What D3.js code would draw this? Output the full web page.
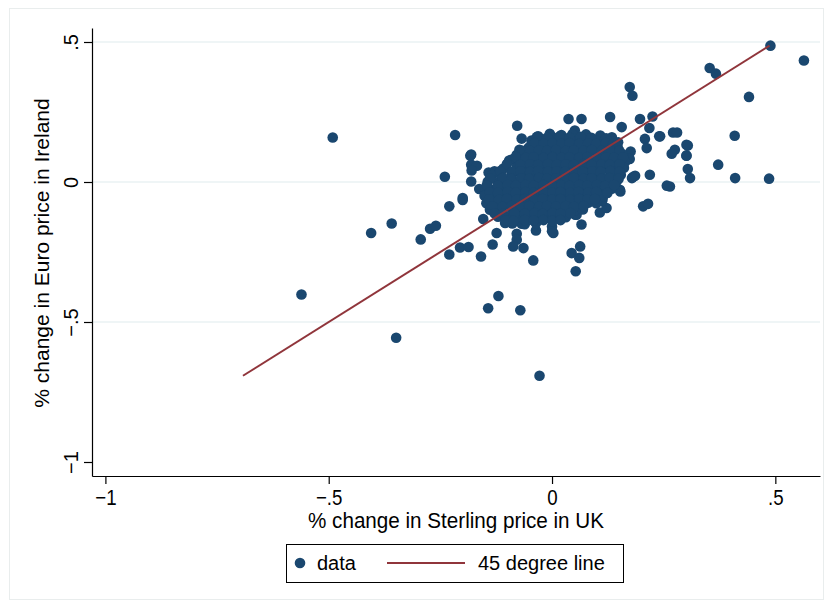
<!DOCTYPE html>
<html>
<head>
<meta charset="utf-8">
<script src="https://cdn.jsdelivr.net/npm/d3@7"></script>
<style>
  body { margin: 0; background: #fff; }
  svg text { font-family: "Liberation Sans", Arial, sans-serif; fill: #000; }
</style>
</head>
<body>
<div id="chart"></div>
<script>
// tick values and labels
var xTicks = [-1, -0.5, 0, 0.5];
var yTicks = [-1, -0.5, 0, 0.5];
var gridTicks = [-0.5, 0, 0.5];
var tickLabel = {"-1": "\u22121", "-0.5": "\u2212.5", "0": "0", "0.5": ".5"};
var legendLabels = ["data", "45 degree line"];

// scattered points (UK change, Ireland change)
var outlierPts = [
  [0.489, 0.487], [0.564, 0.434], [0.353, 0.407], [0.367, 0.387], [0.441, 0.304],
  [0.242, 0.163], [0.271, 0.177], [0.280, 0.177], [0.409, 0.165], [0.304, 0.130],
  [0.275, 0.115], [0.268, 0.101], [0.301, 0.095], [0.304, 0.046], [0.309, 0.014],
  [0.372, 0.062], [0.410, 0.014], [0.486, 0.012], [0.264, -0.016],
  [0.174, 0.339], [0.180, 0.308], [0.037, 0.225], [0.066, 0.225], [0.130, 0.232],
  [0.197, 0.225], [0.225, 0.234], [0.156, 0.196], [0.240, 0.163], [0.301, 0.133],
  [0.301, 0.094], [0.219, 0.026], [0.182, 0.019], [0.204, -0.087], [0.215, -0.078],
  [0.218, 0.193], [0.051, 0.184], [0.208, 0.154], [0.212, 0.121], [0.176, 0.109],
  [0.174, 0.082], [0.179, 0.014], [0.186, 0.022], [0.257, -0.013], [0.152, 0.104],
  [-0.078, 0.201], [-0.217, 0.168], [-0.068, 0.155], [-0.031, 0.163], [0.000, 0.161],
  [-0.181, 0.098], [-0.073, 0.115], [-0.181, 0.062], [-0.168, 0.058], [-0.180, 0.041],
  [-0.240, 0.019], [-0.142, 0.034], [-0.129, 0.038], [-0.090, 0.080], [-0.163, -0.025],
  [-0.200, -0.057], [-0.181, 0.002], [-0.183, 0.094],
  [-0.491, 0.159], [-0.200, -0.064], [-0.230, -0.087], [-0.405, -0.182], [-0.359, -0.148],
  [-0.294, -0.205], [-0.273, -0.167], [-0.260, -0.156], [-0.230, -0.259], [-0.206, -0.234],
  [-0.187, -0.232], [-0.159, -0.266], [-0.133, -0.223], [-0.124, -0.182], [-0.079, -0.185],
  [-0.079, -0.206], [-0.087, -0.230], [-0.064, -0.236], [-0.042, -0.280], [-0.036, -0.173],
  [-0.068, -0.149], [-0.154, -0.132], [-0.105, -0.146],
  [0.000, -0.159], [0.000, -0.176], [0.066, -0.152], [0.052, -0.117], [0.063, -0.230],
  [0.044, -0.254], [0.061, -0.271], [0.053, -0.319], [0.107, -0.109], [0.122, -0.093],
  [0.113, -0.063], [0.152, -0.028], [0.111, -0.069], [0.153, -0.034], [0.126, -0.028],
  [0.003, -0.182], [0.055, -0.117],
  [-0.561, -0.402], [-0.349, -0.556], [-0.143, -0.451], [-0.120, -0.407], [-0.071, -0.458],
  [-0.028, -0.692]
];

// dense middle cloud, read row by row
var clusterPts = [
  [-0.005, 0.172], [0.021, 0.168], [0.046, 0.171], [0.076, 0.170], [0.108, 0.166], [0.134, 0.160],
  [-0.046, 0.148], [-0.021, 0.151], [0.006, 0.147], [0.031, 0.150], [0.054, 0.146], [0.079, 0.149], [0.101, 0.146], [0.118, 0.150],
  [-0.052, 0.123], [-0.031, 0.127], [-0.009, 0.124], [0.011, 0.126], [0.029, 0.122], [0.051, 0.127], [0.071, 0.124], [0.089, 0.126], [0.111, 0.123], [0.129, 0.127], [0.147, 0.124],
  [-0.079, 0.097], [-0.061, 0.102], [-0.039, 0.099], [-0.021, 0.101], [0.002, 0.098], [0.019, 0.102], [0.041, 0.098], [0.061, 0.101], [0.079, 0.099], [0.101, 0.102], [0.119, 0.098], [0.141, 0.101], [0.158, 0.099],
  [-0.096, 0.077], [-0.069, 0.073], [-0.051, 0.076], [-0.029, 0.074], [-0.011, 0.077], [0.011, 0.073], [0.029, 0.076], [0.051, 0.074], [0.069, 0.077], [0.091, 0.073], [0.109, 0.076], [0.131, 0.074], [0.149, 0.076], [0.164, 0.073],
  [-0.109, 0.048], [-0.079, 0.052], [-0.061, 0.049], [-0.039, 0.051], [-0.021, 0.048], [0.001, 0.052], [0.019, 0.049], [0.041, 0.051], [0.059, 0.048], [0.081, 0.052], [0.099, 0.049], [0.121, 0.051], [0.139, 0.048], [0.161, 0.051],
  [-0.134, 0.026], [-0.114, 0.023], [-0.091, 0.027], [-0.069, 0.024], [-0.051, 0.026], [-0.029, 0.023], [-0.011, 0.027], [0.011, 0.024], [0.029, 0.026], [0.051, 0.023], [0.069, 0.027], [0.091, 0.024], [0.109, 0.026], [0.131, 0.023], [0.154, 0.026],
  [-0.144, 0.001], [-0.121, -0.002], [-0.099, 0.002], [-0.081, -0.001], [-0.059, 0.001], [-0.041, -0.002], [-0.019, 0.002], [0.001, -0.001], [0.021, 0.001], [0.039, -0.002], [0.061, 0.002], [0.079, -0.001], [0.101, 0.001], [0.119, -0.002], [0.144, 0.001],
  [-0.149, -0.024], [-0.131, -0.027], [-0.109, -0.023], [-0.091, -0.026], [-0.069, -0.024], [-0.051, -0.027], [-0.029, -0.023], [-0.011, -0.026], [0.011, -0.024], [0.029, -0.027], [0.051, -0.023], [0.069, -0.026], [0.091, -0.024], [0.111, -0.027], [0.134, -0.024],
  [-0.151, -0.049], [-0.129, -0.052], [-0.111, -0.048], [-0.089, -0.051], [-0.071, -0.049], [-0.049, -0.052], [-0.031, -0.048], [-0.009, -0.051], [0.011, -0.049], [0.031, -0.052], [0.049, -0.048], [0.071, -0.051], [0.089, -0.049], [0.114, -0.052],
  [-0.147, -0.076], [-0.124, -0.073], [-0.101, -0.077], [-0.079, -0.074], [-0.061, -0.076], [-0.039, -0.073], [-0.021, -0.077], [0.001, -0.074], [0.019, -0.076], [0.041, -0.073], [0.059, -0.077], [0.081, -0.074], [0.099, -0.076],
  [-0.139, -0.099], [-0.116, -0.102], [-0.089, -0.098], [-0.071, -0.101], [-0.049, -0.099], [-0.031, -0.102], [-0.009, -0.098], [0.011, -0.101], [0.029, -0.099], [0.051, -0.102], [0.069, -0.098],
  [-0.121, -0.124], [-0.099, -0.127], [-0.076, -0.123], [-0.049, -0.126], [-0.031, -0.124], [-0.011, -0.127], [0.009, -0.123], [0.031, -0.126],
  [-0.089, -0.148], [-0.061, -0.151], [-0.036, -0.147]
];

// more of the cloud, between the rows above
var clusterFill = [
  [-0.034, 0.161], [-0.011, 0.158], [0.016, 0.162], [0.039, 0.159], [0.064, 0.161], [0.088, 0.158], [0.121, 0.156],
  [-0.039, 0.139], [-0.019, 0.136], [0.001, 0.138], [0.021, 0.136], [0.039, 0.139], [0.061, 0.136], [0.081, 0.138], [0.099, 0.136], [0.121, 0.139], [0.137, 0.136], [0.148, 0.142],
  [-0.066, 0.111], [-0.049, 0.111], [-0.029, 0.113], [-0.011, 0.111], [0.009, 0.114], [0.031, 0.111], [0.049, 0.113], [0.071, 0.111], [0.089, 0.114], [0.111, 0.111], [0.129, 0.113], [0.151, 0.111],
  [-0.081, 0.089], [-0.059, 0.086], [-0.041, 0.088], [-0.019, 0.086], [0.001, 0.089], [0.021, 0.086], [0.039, 0.088], [0.061, 0.086], [0.079, 0.089], [0.101, 0.086], [0.121, 0.088], [0.139, 0.086], [0.159, 0.088],
  [-0.101, 0.064], [-0.071, 0.061], [-0.049, 0.063], [-0.031, 0.061], [-0.009, 0.064], [0.011, 0.061], [0.031, 0.063], [0.049, 0.061], [0.071, 0.064], [0.089, 0.061], [0.111, 0.063], [0.129, 0.061], [0.151, 0.063],
  [-0.116, 0.039], [-0.089, 0.036], [-0.071, 0.038], [-0.049, 0.036], [-0.031, 0.039], [-0.009, 0.036], [0.011, 0.038], [0.029, 0.036], [0.051, 0.039], [0.069, 0.036], [0.091, 0.038], [0.109, 0.036], [0.131, 0.039], [0.151, 0.036],
  [-0.139, 0.012], [-0.111, 0.014], [-0.091, 0.011], [-0.069, 0.013], [-0.051, 0.011], [-0.029, 0.014], [-0.011, 0.011], [0.009, 0.013], [0.031, 0.011], [0.049, 0.014], [0.071, 0.011], [0.089, 0.013], [0.111, 0.011], [0.129, 0.014], [0.149, 0.011],
  [-0.146, -0.012], [-0.121, -0.014], [-0.099, -0.011], [-0.081, -0.013], [-0.059, -0.011], [-0.041, -0.014], [-0.019, -0.011], [0.001, -0.013], [0.021, -0.011], [0.039, -0.014], [0.061, -0.011], [0.079, -0.013], [0.101, -0.011], [0.119, -0.014], [0.139, -0.011],
  [-0.139, -0.037], [-0.121, -0.039], [-0.099, -0.036], [-0.081, -0.038], [-0.059, -0.036], [-0.041, -0.039], [-0.019, -0.036], [0.001, -0.038], [0.019, -0.036], [0.041, -0.039], [0.059, -0.036], [0.081, -0.038], [0.099, -0.036], [0.124, -0.039],
  [-0.141, -0.062], [-0.119, -0.064], [-0.101, -0.061], [-0.079, -0.063], [-0.061, -0.061], [-0.039, -0.064], [-0.021, -0.061], [0.001, -0.063], [0.019, -0.061], [0.041, -0.064], [0.061, -0.061], [0.079, -0.063], [0.096, -0.061],
  [-0.134, -0.087], [-0.111, -0.089], [-0.091, -0.086], [-0.069, -0.088], [-0.051, -0.086], [-0.029, -0.089], [-0.011, -0.086], [0.009, -0.088], [0.031, -0.086], [0.049, -0.089], [0.071, -0.086],
  [-0.129, -0.112], [-0.109, -0.114], [-0.084, -0.111], [-0.061, -0.113], [-0.039, -0.111], [-0.021, -0.114], [0.001, -0.111], [0.019, -0.113], [0.041, -0.111],
  [-0.104, -0.137], [-0.086, -0.139], [-0.061, -0.136], [-0.041, -0.138], [-0.019, -0.136], [0.001, -0.139], [0.019, -0.136]
];

var allPts = outlierPts.concat(clusterPts, clusterFill);

var W = 833, H = 607;
var margin = {top: 28, right: 13, bottom: 131, left: 92},
    width = W - margin.left - margin.right,
    height = H - margin.top - margin.bottom;

var x = d3.scaleLinear().domain([-1.03, 0.6]).range([0, width]);
var y = d3.scaleLinear().domain([-1.05, 0.55]).range([height, 0]);

var svg = d3.select("#chart").append("svg")
    .attr("width", W)
    .attr("height", H);

// faint outer frame
svg.append("rect")
    .attr("x", 9.5).attr("y", 8.5)
    .attr("width", W - 19).attr("height", H - 16)
    .attr("fill", "#fff")
    .attr("stroke", "#e9eded");

var g = svg.append("g")
    .attr("transform", "translate(" + margin.left + "," + margin.top + ")");

// grid lines
g.selectAll(".grid")
    .data(gridTicks)
    .enter().append("line")
    .attr("class", "grid")
    .attr("x1", 0).attr("x2", width)
    .attr("y1", d => y(d)).attr("y2", d => y(d))
    .attr("stroke", "#eaf2f3")
    .attr("stroke-width", 1.5);

// points
g.selectAll(".dot")
    .data(allPts)
    .enter().append("circle")
    .attr("class", "dot")
    .attr("cx", d => x(d[0]))
    .attr("cy", d => y(d[1]))
    .attr("r", 5.3)
    .attr("fill", "#1a476f");

// 45 degree line over the range of the Irish series
var yExt = d3.extent(allPts, d => d[1]);
g.append("line")
    .attr("x1", x(yExt[0])).attr("y1", y(yExt[0]))
    .attr("x2", x(yExt[1])).attr("y2", y(yExt[1]))
    .attr("stroke", "#90353b")
    .attr("stroke-width", 2);

// axes
var xAxis = d3.axisBottom(x).tickValues(xTicks).tickSize(8).tickSizeOuter(0)
    .tickFormat(d => tickLabel[String(d)]);
var yAxis = d3.axisLeft(y).tickValues(yTicks).tickSize(8).tickSizeOuter(0)
    .tickFormat(d => tickLabel[String(d)]);

var gx = g.append("g")
    .attr("class", "x axis")
    .attr("transform", "translate(0," + height + ")")
    .call(xAxis);
gx.select(".domain").attr("stroke", "#000").attr("stroke-width", 1.2);
gx.selectAll(".tick line").attr("stroke", "#000").attr("stroke-width", 1.2);
gx.selectAll(".tick text")
    .attr("y", 29)
    .attr("dy", null)
    .attr("transform", "scale(0.85,1)")
    .style("font-size", "22px");

var gy = g.append("g")
    .attr("class", "y axis")
    .call(yAxis);
gy.select(".domain").attr("stroke", "#000").attr("stroke-width", 1.2);
gy.selectAll(".tick line").attr("stroke", "#000").attr("stroke-width", 1.2);
gy.selectAll(".tick text")
    .attr("x", null).attr("dy", null)
    .attr("transform", "translate(-14,0) rotate(-90)")
    .attr("text-anchor", "middle")
    .style("font-size", "20px");

// axis titles
svg.append("text")
    .attr("x", 456)
    .attr("y", 528)
    .attr("text-anchor", "middle")
    .attr("textLength", 296)
    .attr("lengthAdjust", "spacingAndGlyphs")
    .style("font-size", "22px")
    .text("% change in Sterling price in UK");

svg.append("text")
    .attr("transform", "translate(49,253) rotate(-90)")
    .attr("text-anchor", "middle")
    .style("font-size", "21px")
    .text("% change in Euro price in Ireland");

// legend
var lg = svg.append("g").attr("transform", "translate(286,544)");
lg.append("rect")
    .attr("x", 0.5).attr("y", 0.5)
    .attr("width", 337).attr("height", 38)
    .attr("fill", "#fff")
    .attr("stroke", "#000")
    .attr("stroke-width", 1);
lg.append("circle")
    .attr("cx", 14).attr("cy", 19).attr("r", 5.3)
    .attr("fill", "#1a476f");
lg.append("text")
    .attr("x", 31).attr("y", 26)
    .style("font-size", "20px")
    .text(legendLabels[0]);
lg.append("line")
    .attr("x1", 101).attr("x2", 179)
    .attr("y1", 19).attr("y2", 19)
    .attr("stroke", "#90353b")
    .attr("stroke-width", 2);
lg.append("text")
    .attr("x", 192).attr("y", 26)
    .style("font-size", "20px")
    .text(legendLabels[1]);
</script>
</body>
</html>
